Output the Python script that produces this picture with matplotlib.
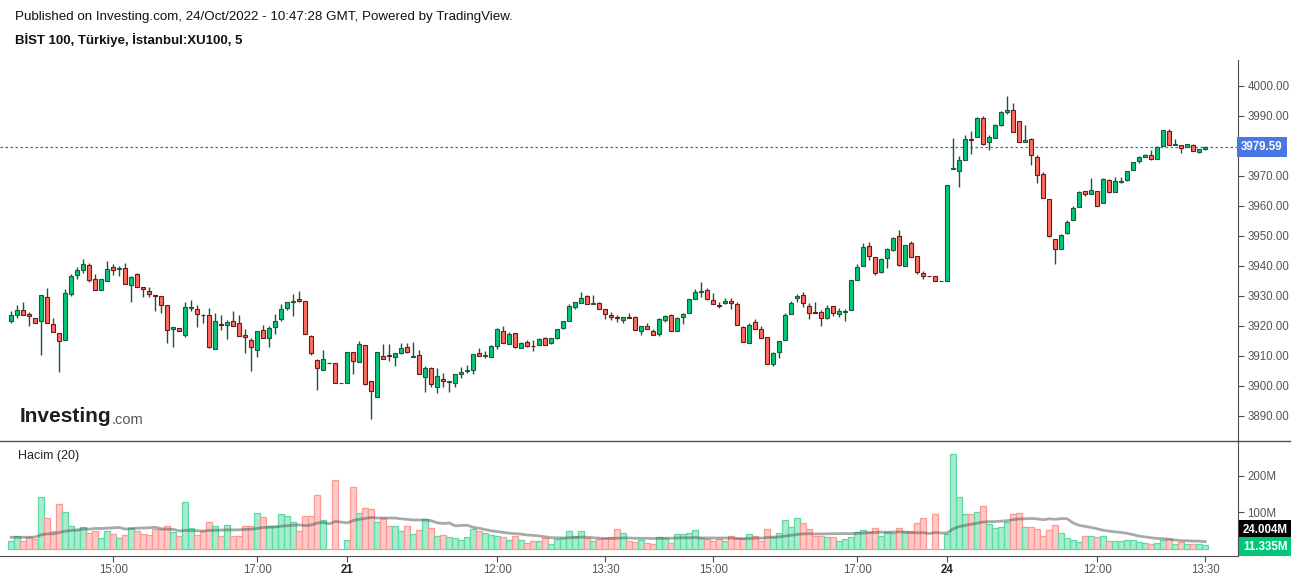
import numpy as np
import pandas as pd
import matplotlib
matplotlib.use("Agg")
import matplotlib.pyplot as plt
from matplotlib.lines import Line2D
import matplotlib.transforms as mtransforms

plt.rcParams['font.family'] = ['Liberation Sans', 'DejaVu Sans']

# 5 dakikalik mumlar (20 Ekim 13:30 -> 24 Ekim 13:30)
opens = [3921.6, 3923.6, 3925.2, 3924.0, 3922.6, 3921.6, 3929.6, 3920.6, 3917.6, 3915.2,
         3930.6, 3936.9, 3938.6, 3940.2, 3935.6, 3931.9, 3934.9, 3939.6, 3938.9, 3939.2,
         3933.6, 3937.2, 3932.9, 3931.6, 3930.2, 3929.9, 3926.9, 3919.0, 3919.2, 3916.9,
         3926.0, 3925.6, 3923.7, 3923.6, 3912.2, 3920.6, 3920.2, 3921.6, 3920.9, 3916.9,
         3915.2, 3911.9, 3918.6, 3915.9, 3919.6, 3922.2, 3925.9, 3927.9, 3928.9, 3928.2,
         3916.6, 3908.5, 3905.2, 3907.6, 3907.6, 3900.9, 3900.9, 3911.2, 3907.9, 3913.6,
         3901.6, 3896.2, 3909.9, 3910.3, 3909.6, 3910.9, 3912.9, 3909.6, 3910.2, 3902.9,
         3905.9, 3899.6, 3902.2, 3901.4, 3900.9, 3903.9, 3905.0, 3905.2, 3910.9, 3910.1,
         3909.6, 3913.2, 3918.2, 3913.9, 3917.6, 3912.6, 3914.6, 3913.3, 3913.6, 3915.9,
         3914.2, 3915.9, 3919.2, 3921.6, 3926.2, 3927.6, 3929.9, 3927.4, 3927.6, 3925.6,
         3923.6, 3922.9, 3921.9, 3922.9, 3922.9, 3918.2, 3919.9, 3918.2, 3917.2, 3921.9,
         3923.6, 3918.2, 3922.9, 3924.2, 3928.9, 3931.4, 3931.9, 3928.6, 3926.9, 3927.6,
         3928.2, 3927.2, 3919.6, 3914.2, 3921.2, 3918.9, 3916.2, 3907.2, 3911.2, 3915.2,
         3923.9, 3929.2, 3930.2, 3926.6, 3924.5, 3924.6, 3922.6, 3926.6, 3923.9, 3924.8,
         3925.2, 3935.2, 3939.9, 3946.6, 3942.9, 3937.9, 3942.6, 3945.2, 3949.9, 3939.9,
         3947.6, 3943.2, 3937.6, 3936.6, 3936.6, 3934.9, 3934.9, 3972.4, 3971.6, 3975.2,
         3982.2, 3982.9, 3989.2, 3981.2, 3982.6, 3986.9, 3991.2, 3991.9, 3988.2, 3981.2,
         3982.2, 3976.2, 3970.6, 3962.2, 3948.9, 3945.6, 3950.9, 3955.2, 3959.6, 3964.9,
         3963.9, 3964.9, 3960.9, 3968.6, 3964.6, 3968.0, 3968.6, 3971.9, 3974.9, 3976.2,
         3976.9, 3975.6, 3979.9, 3984.9, 3980.2, 3980.2, 3979.6, 3980.2, 3977.9, 3978.9]
highs = [3925.0, 3926.9, 3928.0, 3924.8, 3922.6, 3930.2, 3932.6, 3922.6, 3917.6, 3932.3,
         3937.3, 3939.6, 3942.3, 3940.9, 3937.2, 3935.6, 3941.7, 3940.6, 3939.9, 3941.0,
         3936.6, 3937.6, 3932.9, 3932.9, 3930.2, 3929.9, 3926.9, 3919.6, 3919.2, 3928.0,
         3928.6, 3926.9, 3923.9, 3925.9, 3924.2, 3923.6, 3922.0, 3924.9, 3923.6, 3918.9,
         3915.9, 3918.2, 3920.2, 3919.9, 3923.9, 3927.2, 3927.9, 3930.6, 3931.6, 3928.2,
         3916.9, 3908.9, 3911.9, 3907.6, 3907.6, 3901.0, 3911.2, 3911.2, 3914.9, 3913.6,
         3901.6, 3911.2, 3913.9, 3913.9, 3910.9, 3914.2, 3914.2, 3914.6, 3911.9, 3906.6,
         3906.2, 3905.9, 3904.2, 3901.6, 3903.9, 3906.2, 3906.9, 3910.6, 3912.6, 3911.6,
         3913.6, 3919.2, 3919.9, 3917.9, 3917.6, 3914.6, 3915.2, 3915.2, 3915.9, 3916.2,
         3915.9, 3918.9, 3921.6, 3927.2, 3927.9, 3931.2, 3930.2, 3930.2, 3927.9, 3925.6,
         3924.6, 3923.6, 3922.9, 3924.2, 3923.2, 3919.9, 3920.9, 3918.9, 3922.6, 3923.6,
         3923.9, 3922.9, 3924.2, 3928.9, 3932.2, 3934.6, 3932.6, 3930.9, 3927.9, 3929.2,
         3929.2, 3927.9, 3919.9, 3920.9, 3922.2, 3919.9, 3916.2, 3911.2, 3914.9, 3924.2,
         3928.2, 3930.6, 3931.2, 3927.6, 3927.9, 3925.2, 3926.9, 3926.6, 3925.9, 3925.6,
         3935.2, 3940.6, 3947.6, 3947.9, 3942.9, 3942.6, 3945.9, 3949.6, 3951.9, 3946.9,
         3948.2, 3943.2, 3938.2, 3936.6, 3936.6, 3935.0, 3966.9, 3982.6, 3976.6, 3983.6,
         3984.9, 3989.6, 3989.9, 3983.6, 3987.2, 3991.6, 3996.7, 3994.2, 3988.2, 3986.9,
         3982.6, 3976.9, 3971.2, 3962.2, 3948.9, 3950.6, 3955.2, 3959.9, 3964.9, 3964.9,
         3969.2, 3964.9, 3969.2, 3968.9, 3969.6, 3969.6, 3971.6, 3974.6, 3976.6, 3977.2,
         3978.6, 3979.9, 3985.2, 3985.6, 3982.2, 3980.2, 3980.6, 3980.6, 3978.9, 3979.9]
lows = [3921.1, 3922.8, 3923.8, 3920.1, 3920.9, 3910.3, 3920.9, 3917.9, 3904.6, 3915.2,
        3930.1, 3935.6, 3937.8, 3934.8, 3931.9, 3931.9, 3934.9, 3936.9, 3936.6, 3933.9,
        3927.9, 3932.9, 3929.6, 3929.6, 3924.9, 3924.2, 3914.2, 3913.1, 3918.2, 3916.2,
        3924.9, 3919.6, 3920.9, 3912.6, 3912.2, 3918.6, 3915.6, 3919.9, 3916.6, 3910.9,
        3904.9, 3909.6, 3915.9, 3913.1, 3917.2, 3921.6, 3925.2, 3923.2, 3927.9, 3917.2,
        3910.2, 3898.6, 3905.2, 3907.5, 3900.9, 3900.9, 3900.9, 3903.9, 3907.9, 3900.2,
        3888.9, 3896.2, 3908.9, 3908.2, 3906.6, 3910.6, 3910.9, 3909.6, 3903.9, 3897.9,
        3899.6, 3897.6, 3899.6, 3897.9, 3899.6, 3902.6, 3904.2, 3903.9, 3909.9, 3909.2,
        3909.6, 3912.2, 3914.2, 3913.9, 3912.6, 3912.6, 3912.9, 3911.6, 3913.6, 3913.6,
        3913.9, 3915.6, 3918.9, 3921.6, 3925.6, 3927.6, 3927.2, 3927.2, 3925.6, 3922.2,
        3921.9, 3921.2, 3920.9, 3922.6, 3918.6, 3916.9, 3918.9, 3916.9, 3916.6, 3921.2,
        3918.2, 3918.2, 3920.6, 3924.2, 3928.9, 3929.6, 3928.6, 3927.2, 3925.9, 3927.2,
        3925.6, 3920.2, 3914.6, 3914.2, 3918.9, 3915.9, 3907.2, 3906.6, 3909.2, 3915.2,
        3923.9, 3927.9, 3926.2, 3922.2, 3924.2, 3920.1, 3922.2, 3923.2, 3922.9, 3921.6,
        3925.2, 3935.2, 3939.9, 3941.9, 3936.9, 3937.6, 3939.2, 3944.9, 3939.9, 3939.9,
        3942.9, 3937.2, 3935.6, 3936.5, 3934.9, 3934.9, 3934.9, 3972.4, 3966.2, 3975.2,
        3977.2, 3982.9, 3980.2, 3978.6, 3982.6, 3986.6, 3990.6, 3984.6, 3981.2, 3981.2,
        3973.6, 3967.6, 3962.6, 3949.6, 3940.6, 3945.6, 3950.6, 3955.2, 3959.6, 3963.2,
        3963.9, 3959.9, 3960.9, 3964.2, 3964.6, 3967.6, 3968.2, 3971.9, 3974.2, 3976.2,
        3975.2, 3975.6, 3979.9, 3980.2, 3980.2, 3977.6, 3979.6, 3978.2, 3977.6, 3978.6]
closes = [3923.6, 3925.2, 3923.8, 3923.2, 3920.9, 3930.2, 3920.9, 3917.9, 3914.9, 3930.9,
          3936.6, 3938.6, 3940.6, 3935.2, 3931.9, 3935.6, 3938.9, 3938.6, 3939.2, 3933.9,
          3936.2, 3932.9, 3932.2, 3930.6, 3929.9, 3926.9, 3918.6, 3919.6, 3918.2, 3926.2,
          3926.2, 3923.9, 3923.5, 3912.9, 3921.6, 3920.2, 3921.2, 3919.9, 3916.6, 3916.2,
          3912.9, 3918.2, 3915.9, 3919.2, 3921.6, 3925.6, 3927.9, 3928.2, 3928.2, 3917.2,
          3910.9, 3905.9, 3908.9, 3907.5, 3900.9, 3901.0, 3911.2, 3908.2, 3913.9, 3900.6,
          3898.2, 3911.2, 3908.9, 3910.1, 3910.9, 3912.6, 3911.2, 3909.9, 3903.9, 3905.9,
          3900.6, 3903.2, 3901.6, 3901.6, 3903.9, 3904.6, 3905.2, 3910.6, 3909.9, 3910.3,
          3913.2, 3918.9, 3914.2, 3917.2, 3912.9, 3914.2, 3913.2, 3913.2, 3915.6, 3913.6,
          3915.9, 3918.9, 3921.6, 3926.6, 3927.9, 3929.2, 3927.2, 3927.6, 3925.6, 3923.9,
          3922.9, 3922.6, 3922.9, 3922.8, 3918.6, 3919.9, 3918.9, 3916.9, 3922.2, 3923.2,
          3918.2, 3922.6, 3923.9, 3928.9, 3931.2, 3931.6, 3928.9, 3927.2, 3926.6, 3928.2,
          3927.6, 3920.2, 3914.6, 3920.2, 3918.9, 3915.9, 3907.2, 3910.9, 3914.9, 3923.6,
          3927.6, 3929.9, 3927.6, 3924.2, 3924.2, 3922.6, 3925.9, 3924.2, 3924.9, 3924.9,
          3935.2, 3939.6, 3946.2, 3943.2, 3937.6, 3942.2, 3945.6, 3949.2, 3940.2, 3946.9,
          3942.9, 3937.9, 3936.6, 3936.5, 3934.9, 3935.0, 3966.9, 3972.6, 3975.2, 3982.2,
          3981.9, 3989.2, 3980.6, 3982.9, 3986.9, 3991.2, 3991.9, 3984.6, 3981.2, 3981.9,
          3976.9, 3970.2, 3962.6, 3949.9, 3945.6, 3950.2, 3954.6, 3959.2, 3964.6, 3963.9,
          3965.2, 3959.9, 3968.9, 3964.6, 3968.2, 3968.2, 3971.6, 3974.6, 3976.2, 3976.9,
          3975.6, 3979.6, 3985.2, 3980.2, 3980.6, 3979.2, 3980.6, 3978.2, 3978.9, 3979.59]

# hacim, milyon
volumes = [21.9, 34.7, 21.9, 32.0, 27.4, 141.6, 84.0, 49.3, 123.3, 101.4,
           62.1, 52.1, 59.4, 43.8, 49.3, 29.2, 49.3, 40.2, 29.2, 37.4,
           57.5, 49.3, 41.1, 37.4, 53.9, 53.9, 63.0, 45.7, 34.7, 127.9,
           56.6, 37.4, 49.3, 74.0, 62.1, 34.7, 65.8, 34.7, 34.7, 62.1,
           62.1, 97.8, 86.8, 63.0, 62.1, 95.0, 89.5, 74.0, 49.3, 89.5,
           89.5, 147.9, 78.5, 1.0, 188.1, 0.5, 23.7, 168.9, 97.8, 111.4,
           108.7, 73.1, 84.0, 62.1, 62.1, 49.3, 62.1, 40.2, 52.1, 81.3,
           56.6, 34.7, 37.4, 32.0, 29.2, 23.7, 32.0, 53.9, 48.4, 42.9,
           37.4, 34.7, 32.0, 23.7, 34.7, 23.7, 15.5, 21.0, 21.0, 29.2,
           12.8, 26.5, 29.2, 48.4, 34.7, 48.4, 29.2, 21.0, 26.5, 29.2,
           32.0, 53.9, 42.9, 21.0, 18.3, 23.7, 15.5, 12.8, 32.0, 29.2,
           15.5, 40.2, 40.2, 42.9, 51.1, 29.2, 26.5, 21.0, 26.5, 21.0,
           34.7, 29.2, 29.2, 40.2, 34.7, 21.0, 53.9, 32.0, 42.9, 78.5,
           59.4, 84.0, 70.3, 53.9, 34.7, 34.7, 32.0, 32.0, 21.0, 26.5,
           32.0, 45.7, 51.1, 45.7, 56.6, 34.7, 45.7, 42.9, 56.6, 48.4,
           48.4, 70.3, 84.0, 1.0, 95.0, 0.5, 40.2, 259.4, 141.6, 95.0,
           95.0, 101.4, 116.9, 67.6, 56.6, 59.4, 73.1, 95.0, 97.8, 59.4,
           59.4, 53.9, 34.7, 51.1, 65.8, 42.9, 29.2, 23.7, 18.3, 34.7,
           34.7, 32.0, 34.7, 21.0, 21.0, 21.0, 23.7, 23.7, 18.3, 15.5,
           12.8, 15.5, 23.7, 26.5, 12.8, 18.3, 12.8, 12.8, 12.8, 11.3]

# ilk 19 mum icin hacim ortalamasi
ma_head = [32.0, 32.0, 32.0, 32.0, 33.0, 38.9, 41.6, 41.6, 45.3, 48.9,
           50.7, 52.5, 54.4, 54.4, 56.2, 56.2, 57.1, 58.0, 58.9]

tick_pos = [17, 41, 56, 81, 99, 117, 141, 156, 181, 199]
tick_labels = ["15:00", "17:00", "21", "12:00", "13:30", "15:00", "17:00", "24", "12:00", "13:30"]
# 3980 etiketi son fiyat kutusunun altinda kaliyor
price_ticks = [3890, 3900, 3910, 3920, 3930, 3940, 3950, 3960, 3970, 3990, 4000]

last_price = 3979.59
vol_ma_label = "24.004M"
vol_last_label = "11.335M"

o = np.array(opens)
h = np.array(highs)
l = np.array(lows)
c = np.array(closes)
v = np.array(volumes)
x = np.arange(len(o))
up = c >= o

ma = pd.Series(v).rolling(20).mean().to_numpy()
ma[:19] = ma_head

GREEN, RED = "#00c878", "#ff6b5e"
GREEN_EDGE, RED_EDGE = "#1d5a3a", "#6a1a1a"
WICK = "#225237"
AXIS = "#4d4d4d"
TXT = "#555555"

fig = plt.figure(figsize=(12.99, 5.8), dpi=100)
ax = fig.add_axes([0.0, 0.2397, 0.953, 0.6569])
axv = fig.add_axes([0.0, 0.0414, 0.953, 0.1983], sharex=ax)

# mumlar
ax.vlines(x, l, h, color=WICK, lw=1.0, zorder=1)
ax.bar(x, np.maximum(np.abs(c - o), 0.2), bottom=np.minimum(o, c), width=0.72,
       color=np.where(up, GREEN, RED), edgecolor=np.where(up, GREEN_EDGE, RED_EDGE),
       linewidth=0.8, zorder=2)
ax.axhline(last_price, color="#3f63c9", lw=0.9, ls=(0, (2, 2)), zorder=0)

ax.set_xlim(-1.883, 204.45)
ax.set_ylim(3881.67, 4008.67)
for s in ["top", "left", "bottom"]:
    ax.spines[s].set_visible(False)
ax.spines["right"].set_color(AXIS)
ax.yaxis.tick_right()
ax.set_yticks(price_ticks)
ax.set_yticklabels([f"{p:.2f}" for p in price_ticks])
ax.tick_params(axis="y", length=4, color=AXIS, labelcolor=TXT, labelsize=8.3, pad=3)
ax.tick_params(axis="x", bottom=False, labelbottom=False)

ax.text(1.0025, last_price, f"{last_price:.2f}",
        transform=mtransforms.blended_transform_factory(ax.transAxes, ax.transData),
        ha="left", va="center", color="white", fontsize=8.3, fontweight="bold",
        bbox=dict(boxstyle="square,pad=0.35", fc="#4a78e0", ec="none"))

# hacim
axv.bar(x, v, width=0.95, color=np.where(up, "#a6ecce", "#fec9c6"),
        edgecolor=np.where(up, "#5fd8a2", "#f99b94"), linewidth=0.9, zorder=1)
axv.plot(x, ma, color="#555555", alpha=0.5, lw=2.0, zorder=2)
axv.set_ylim(-19.2, 295.9)
for s in ["top", "left"]:
    axv.spines[s].set_visible(False)
axv.spines["right"].set_color(AXIS)
axv.spines["bottom"].set_color(AXIS)
axv.yaxis.tick_right()
axv.set_yticks([100, 200])
axv.set_yticklabels(["100M", "200M"])
axv.tick_params(axis="y", length=4, color=AXIS, labelcolor=TXT, labelsize=8.3, pad=3)
axv.set_xticks(tick_pos)
axv.set_xticklabels(tick_labels)
axv.tick_params(axis="x", length=4, color=AXIS, labelcolor=TXT, labelsize=8.3, pad=2)
for lab in axv.get_xticklabels():
    if lab.get_text() in ("21", "24"):
        lab.set_fontweight("bold")
        lab.set_color("#222222")

axv.text(1.004, 0.23, vol_ma_label, transform=axv.transAxes, ha="left", va="center",
         color="white", fontsize=8.3, fontweight="bold",
         bbox=dict(boxstyle="square,pad=0.3", fc="#000000", ec="none"))
axv.text(1.004, 0.08, vol_last_label, transform=axv.transAxes, ha="left", va="center",
         color="white", fontsize=8.3, fontweight="bold",
         bbox=dict(boxstyle="square,pad=0.3", fc="#00c878", ec="none"))
axv.text(0.0145, 0.87, "Hacim (20)", transform=axv.transAxes, ha="left", va="center",
         color="#222222", fontsize=9)

# panel ayirici
fig.add_artist(Line2D([0.0, 0.993], [0.2397, 0.2397], transform=fig.transFigure, color=AXIS, lw=1.0))

# basliklar
fig.text(15 / 1299, 1 - 17 / 580, "Published on Investing.com, 24/Oct/2022 - 10:47:28 GMT, Powered by TradingView.",
         ha="left", va="center", fontsize=9.6, color="#111111")
fig.text(15 / 1299, 1 - 40 / 580, "BİST 100, Türkiye, İstanbul:XU100, 5",
         ha="left", va="center", fontsize=9.5, fontweight="bold", color="#111111")

# logo
t1 = fig.text(20 / 1299, 1 - 417 / 580, "Investing", ha="left", va="center",
              fontsize=15, fontweight="bold", color="#1e1e1e")
fig.canvas.draw()
bb = t1.get_window_extent()
fig.text(bb.x1 / fig.bbox.width, 1 - 420 / 580, ".com", ha="left", va="center",
         fontsize=10.5, color="#555555")

fig.savefig("out.png", dpi=100)
